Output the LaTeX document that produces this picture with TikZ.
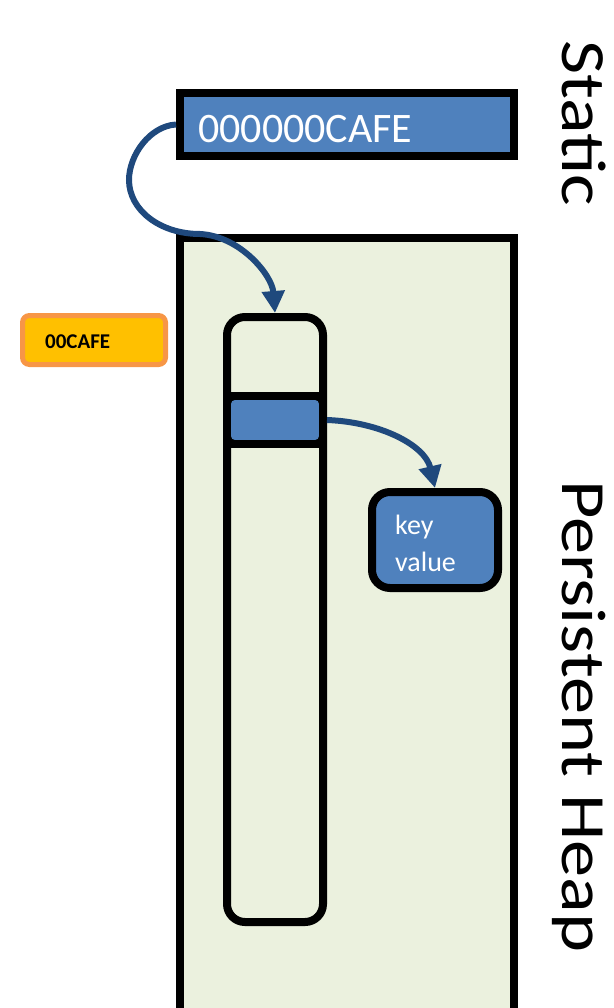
\documentclass[tikz,border=0pt]{standalone}
\usepackage{fontspec}
\setmainfont{Carlito}
\usetikzlibrary{arrows.meta}
\definecolor{cellblue}{HTML}{4F81BD}
\definecolor{linkblue}{HTML}{1F497D}
\definecolor{heapgreen}{HTML}{EBF1DE}
\definecolor{tagfill}{HTML}{FFC000}
\definecolor{tagedge}{HTML}{F79646}
\tikzset{
  region/.style={draw=black, line width=8pt, rectangle, inner sep=0pt},
  cell/.style={region, fill=cellblue},
  link/.style={draw=linkblue, line width=6pt, -{Triangle[width=22pt,length=22pt]}},
  celltext/.style={text=white, anchor=base west, inner sep=0pt},
  sidetext/.style={rotate=-90, anchor=base west, inner sep=0pt, text=black},
}
\begin{document}
\begin{tikzpicture}[x=1pt, y=-1pt]
\useasboundingbox (0,0) rectangle (613,1008);
% persistent heap area (runs off the bottom edge)
\node (heap) [region, fill=heapgreen, minimum width=334pt, minimum height=800pt] at (347,638) {};
% static cell
\node (static) [cell, minimum width=334pt, minimum height=63pt] at (347,124.5) {};
\node (statictext) [celltext] at (198,143) {\fontsize{42}{50}\selectfont 000000CAFE};
% array in the heap
\node (column) [region, rounded corners=18pt, minimum width=96pt, minimum height=605pt] at (275,619.5) {};
\node (slot) [region, fill=black, minimum width=96pt, minimum height=48pt,
  path picture={\fill[cellblue, rounded corners=4pt]
    ([xshift=4pt,yshift=-4pt]path picture bounding box.north west) rectangle
    ([xshift=-4pt,yshift=4pt]path picture bounding box.south east);}] at (275,420) {};
% key/value entry
\node (kv) [cell, rounded corners=18pt, minimum width=126pt, minimum height=96pt] at (435,540) {};
\node (keytext) [celltext] at (395,534) {\fontsize{28}{32}\selectfont key};
\node (valtext) [celltext] at (395,571) {\fontsize{28}{32}\selectfont value};
% orange tag
\node (tag) [draw=tagedge, fill=tagfill, line width=5pt, rounded corners=7pt, minimum width=143pt, minimum height=49pt, inner sep=0pt] at (94,340) {};
\node (tagtext) [anchor=base west, inner sep=0pt] at (45,348) {\fontsize{21}{25}\selectfont\bfseries 00CAFE};
% side captions
\node (staticcap) [sidetext] at (562,40) {\fontsize{63}{70}\selectfont\scalebox{1.18}[1]{Static}};
\node (heapcap) [sidetext] at (562,480) {\fontsize{63}{70}\selectfont\scalebox{1.18}[1]{Persistent Heap}};
% pointers
\draw[link] (static.west) .. controls (150,126) and (129,155) .. (129,180)
  .. controls (129,210) and (160,234) .. (200,234)
  .. controls (240,236) and (272,275) .. (column.north);
\draw[link] (slot.east) .. controls (380,422) and (425,445) .. (kv.north);
\end{tikzpicture}
\end{document}
